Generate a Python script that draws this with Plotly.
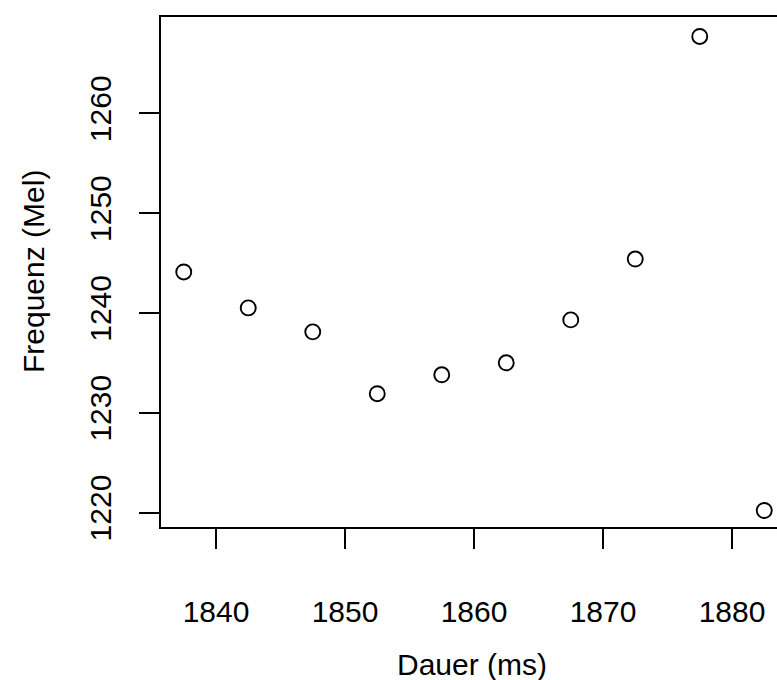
import plotly.graph_objects as go

dauer = [1837.5, 1842.5, 1847.5, 1852.5, 1857.5, 1862.5, 1867.5, 1872.5, 1877.5, 1882.5]
frequenz = [1244.1, 1240.5, 1238.1, 1231.9, 1233.8, 1235.0, 1239.3, 1245.4, 1267.7, 1220.2]
x_ticks = [1840, 1850, 1860, 1870, 1880]
y_ticks = [1220, 1230, 1240, 1250, 1260]
x_title = "Dauer (ms)"
y_title = "Frequenz (Mel)"

FONT = "Liberation Sans, Arial, Helvetica, sans-serif"
FS = 30
W, H = 777, 680
L, T, B = 160, 16, 152
PX_PER_X = 12.9
PX_PER_Y = 9.98
plot_w = W - L
plot_h = H - T - B

x0 = 1840 - (216 - L) / PX_PER_X
x1 = x0 + plot_w / PX_PER_X
y0 = 1220 - (528 - 512.5) / PX_PER_Y
y1 = y0 + plot_h / PX_PER_Y

fig = go.Figure()
fig.add_trace(go.Scatter(
    x=dauer, y=frequenz, mode="markers",
    marker=dict(symbol="circle-open", size=15, color="black", line=dict(width=1.9, color="black")),
    cliponaxis=False, showlegend=False,
))

axis_common = dict(
    showgrid=False, zeroline=False, showline=False,
    ticks="outside", ticklen=20, tickwidth=2, tickcolor="black",
    tickfont=dict(family=FONT, size=FS, color="black"),
)
fig.update_xaxes(range=[x0, x1], tickvals=x_ticks, ticktext=[str(v) for v in x_ticks],
                 ticklabelstandoff=37, **axis_common)
fig.update_yaxes(range=[y0, y1], tickvals=y_ticks, ticktext=[str(v) for v in y_ticks],
                 tickangle=-90, ticklabelstandoff=16, **axis_common)

# box (extends past the right edge of the window, as in the reference)
right_paper = (787.5 - L) / plot_w
fig.add_shape(type="rect", xref="paper", yref="paper", x0=0, x1=right_paper, y0=0, y1=1,
              line=dict(color="black", width=2), fillcolor="rgba(0,0,0,0)", layer="above")

fig.add_annotation(text=x_title, xref="paper", yref="paper",
                   x=(472 - L) / plot_w, y=(528 - 664) / plot_h, xanchor="center", yanchor="middle",
                   showarrow=False, font=dict(family=FONT, size=FS, color="black"))
fig.add_annotation(text=y_title, xref="paper", yref="paper",
                   x=(33 - L) / plot_w, y=0.5, xanchor="center", yanchor="middle", textangle=-90,
                   showarrow=False, font=dict(family=FONT, size=FS, color="black"))

fig.update_layout(
    width=W, height=H, margin=dict(l=L, r=0, t=T, b=B, autoexpand=False),
    plot_bgcolor="white", paper_bgcolor="white",
)
fig.write_html("out.html")
